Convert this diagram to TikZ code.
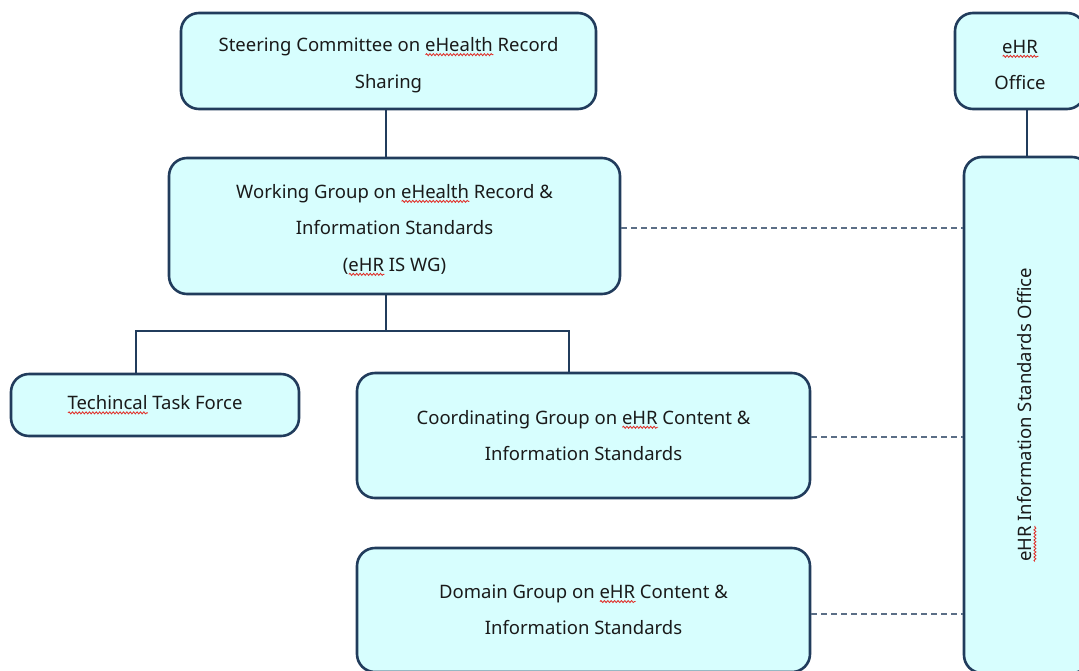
\documentclass[tikz,border=0pt]{standalone}
\usepackage{fontspec}
\setmainfont{Noto Sans}
\usetikzlibrary{decorations.pathmorphing}
\definecolor{boxfill}{HTML}{D7FEFE}
\definecolor{edge}{HTML}{213C5C}
\definecolor{ink}{HTML}{1A1A1A}
\definecolor{dashcol}{HTML}{5B6E86}
\definecolor{squig}{HTML}{E0302A}
% red wavy underline for flagged words
\newlength\flagwidth
\newcommand\flagword[1]{\settowidth\flagwidth{#1}\leavevmode
  \rlap{\raisebox{-4.5pt}{\tikz[x=1pt,y=1pt,reset cm]\path[draw=squig, fill=none, sharp corners,
     line width=0.85pt, decorate, decoration={snake, amplitude=1pt, segment length=3.4pt}]
     (0,0) -- (\flagwidth,0);}}#1}
\begin{document}
\begin{tikzpicture}[x=1pt,y=-1pt,
  boxtext/.style={align=center, inner sep=0pt, text=ink, font=\fontsize{18.5}{36.5}\selectfont},
  box/.style={draw=edge, line width=2.6pt, fill=boxfill, rounded corners=18pt, boxtext},
  lowtext/.style={label={[boxtext, yshift=-4pt]center:{#1}}},
  link/.style={draw=edge, line width=2.6pt},
  dashlink/.style={draw=dashcol, line width=1.1pt, dash pattern=on 6pt off 4pt}]
\useasboundingbox (0,0) rectangle (1079,670);
\clip (0,0) rectangle (1079,670);

\node[box, minimum width=415pt, minimum height=96pt,
  lowtext={Steering Committee on \flagword{eHealth} Record\\Sharing}] (steer) at (388.5,61) {};
\node[box, minimum width=130pt, minimum height=96pt,
  lowtext={\flagword{eHR}\\Office}] (office) at (1020,61) {};
\node[box, minimum width=451pt, minimum height=136pt,
  lowtext={Working Group on \flagword{eHealth} Record \&\\Information Standards\\(\flagword{eHR} IS WG)}]
  (wg) at (394.5,226) {};
\node[box, rotate=90, minimum width=516pt, minimum height=126pt] (iso) at (1027,415)
  {\flagword{eHR} Information Standards Office};
\node[box, minimum width=288pt, minimum height=62pt] (tech) at (155,405)
  {\flagword{Techincal} Task Force};
\node[box, minimum width=453pt, minimum height=125pt] (coord) at (583.5,435.5)
  {Coordinating Group on \flagword{eHR} Content \&\\Information Standards};
\node[box, minimum width=453pt, minimum height=124pt] (domain) at (583.5,610)
  {Domain Group on \flagword{eHR} Content \&\\Information Standards};

% hierarchy
\coordinate (fork) at (386,331);
\coordinate (ttop) at (136,331);
\coordinate (ctop) at (569,331);
\draw[link] (fork |- steer.south) -- (fork |- wg.north);
\draw[link] (fork |- wg.south) -- (fork);
\draw[link] (ttop |- tech.north) -- (ttop) -- (ctop) -- (ctop |- coord.north);
\draw[link] (iso.east) -- (iso.east |- office.south);

% dashed reporting lines to the standards office
\draw[dashlink] ([yshift=-2pt]wg.east) -- ([yshift=-2pt]wg.east -| iso.north);
\draw[dashlink] ([yshift=-1.5pt]coord.east) -- ([yshift=-1.5pt]coord.east -| iso.north);
\draw[dashlink] ([yshift=-4pt]domain.east) -- ([yshift=-4pt]domain.east -| iso.north);
\end{tikzpicture}
\end{document}
